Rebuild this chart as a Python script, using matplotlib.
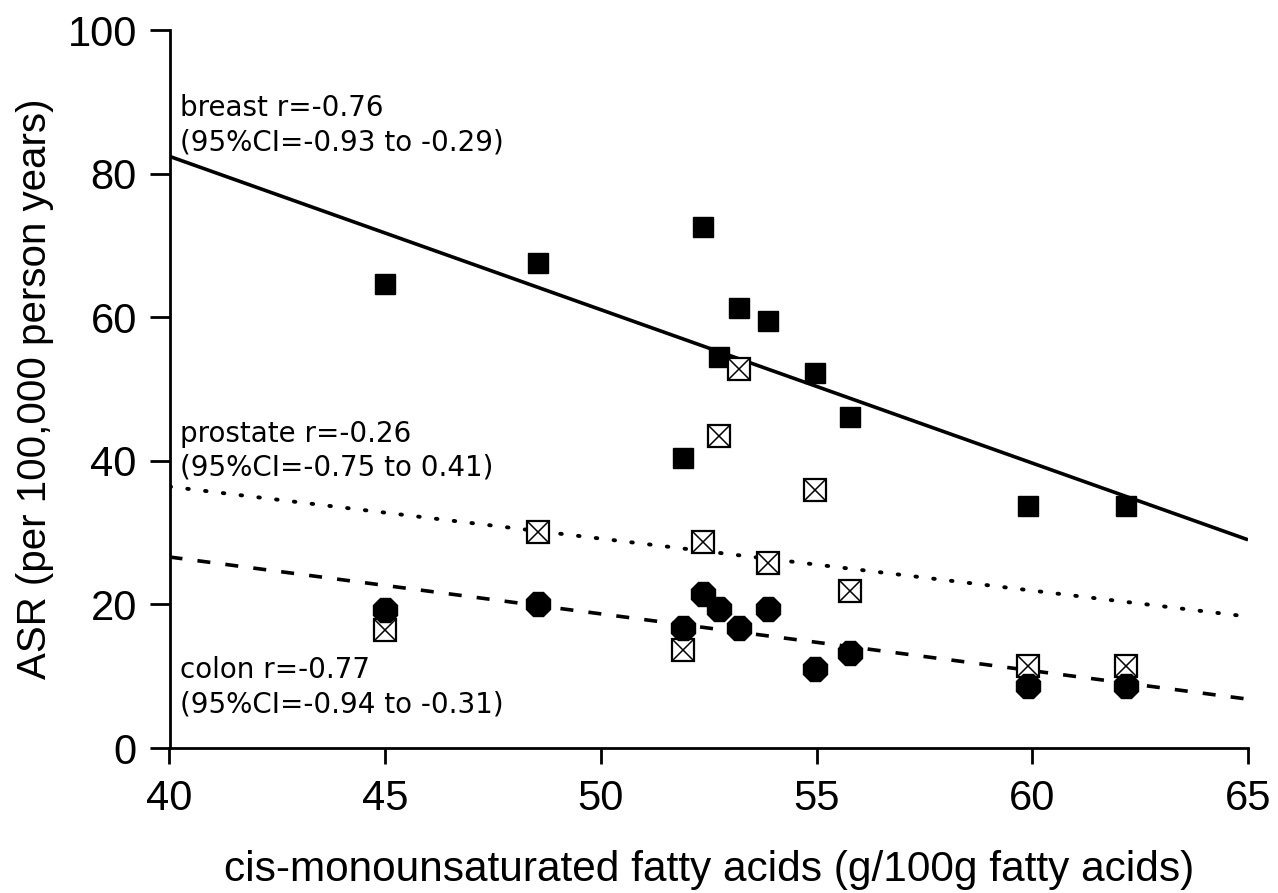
import matplotlib
matplotlib.use('Agg')
import matplotlib.pyplot as plt

# cis-monounsaturated fatty acids per country (g/100g fatty acids)
fat = [45.0, 48.55, 51.9, 52.37, 52.74, 53.2, 53.88, 54.97, 55.77, 59.9, 62.17]
# age standardised rates per 100,000 person years
breast = [64.6, 67.6, 40.4, 72.5, 54.5, 61.3, 59.5, 52.2, 46.1, 33.7, 33.7]
prostate = [16.4, 30.1, 13.7, 28.7, 43.5, 52.8, 25.8, 36.0, 21.8, 11.4, 11.4]
colon = [19.2, 20.1, 16.7, 21.5, 19.3, 16.7, 19.3, 11.0, 13.2, 8.6, 8.6]

# regression lines, value at x = 40 and x = 65
fit_x = [40, 65]
breast_fit = [82.4, 29.0]
prostate_fit = [36.4, 18.3]
colon_fit = [26.6, 6.8]

labels = [('breast r=-0.76', '(95%CI=-0.93 to -0.29)', 89.2, 84.4),
          ('prostate r=-0.26', '(95%CI=-0.75 to 0.41)', 43.8, 39.1),
          ('colon r=-0.77', '(95%CI=-0.94 to -0.31)', 10.8, 6.0)]

plt.rcParams['font.family'] = ['Liberation Sans', 'DejaVu Sans']

fig = plt.figure(figsize=(12.78, 8.93), dpi=100)
ax = fig.add_axes([169.5 / 1278, 145 / 893, 1078.5 / 1278, 718 / 893])

ax.plot(fit_x, breast_fit, color='black', lw=2.6, solid_capstyle='butt', zorder=2)
ax.plot(fit_x, prostate_fit, color='black', lw=2.8,
        linestyle=(0, (0.4, 4.2)), dash_capstyle='round', zorder=2)
ax.plot(fit_x, colon_fit, color='black', lw=2.6,
        linestyle=(0, (3.6, 4.2)), zorder=2)

ax.plot(fat, breast, 's', ms=14.6, color='black', ls='none', zorder=3)
ax.plot(fat, prostate, 's', ms=15.5, mfc='white', mec='black', mew=1.6,
        ls='none', zorder=3)
ax.plot(fat, prostate, 'x', ms=15.5, color='black', mew=1.1, ls='none', zorder=3)
ax.plot(fat, colon, '8', ms=18, color='black', ls='none', zorder=4)

for line1, line2, y1, y2 in labels:
    ax.text(40.25, y1, line1, fontsize=20, family='DejaVu Sans', va='center')
    ax.text(40.25, y2, line2, fontsize=20, family='DejaVu Sans', va='center')

ax.set_xlim(40, 65)
ax.set_ylim(0, 100)
ax.set_xticks([40, 45, 50, 55, 60, 65])
ax.set_yticks([0, 20, 40, 60, 80, 100])

for side in ['top', 'right']:
    ax.spines[side].set_visible(False)
for side in ['left', 'bottom']:
    ax.spines[side].set_linewidth(2)

ax.tick_params(axis='x', direction='out', length=11.5, width=2, pad=11, labelsize=30)
ax.tick_params(axis='y', direction='out', length=14.5, width=2, pad=9, labelsize=30)

ax.set_xlabel('cis-monounsaturated fatty acids (g/100g fatty acids)', fontsize=30.5, labelpad=22)
ax.set_ylabel('ASR (per 100,000 person years)', fontsize=29, labelpad=10)

fig.savefig('out.png', dpi=100)
